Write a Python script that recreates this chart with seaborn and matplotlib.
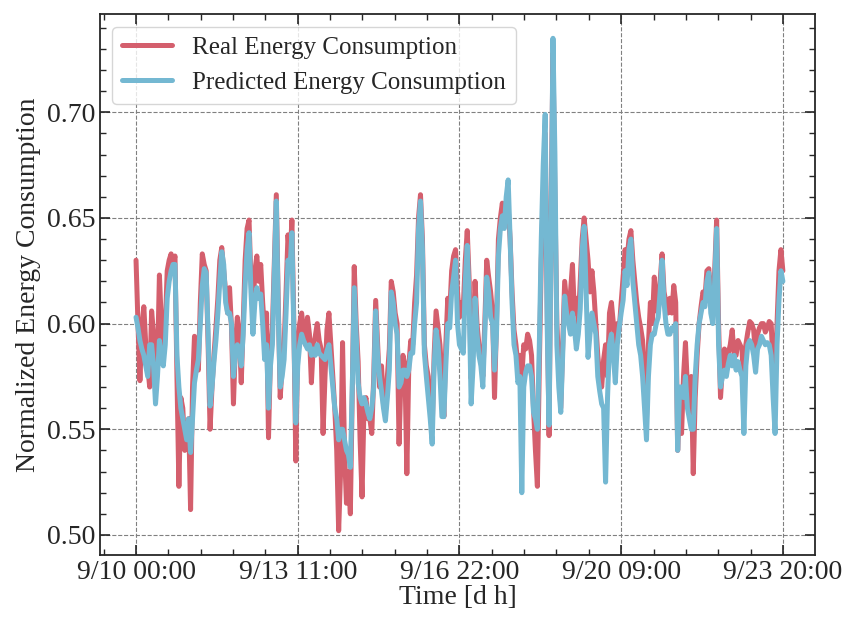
import numpy as np
import pandas as pd
import matplotlib
matplotlib.use("Agg")
import matplotlib.pyplot as plt
import seaborn as sns
from matplotlib.ticker import AutoMinorLocator, FixedLocator

# hourly values, hour 0 = 9/10 00:00, hour 332 = 9/23 20:00
real = [
    0.630, 0.600, 0.573, 0.598, 0.608, 0.590, 0.580, 0.570, 0.606, 0.595,
    0.572, 0.580, 0.623, 0.600, 0.585, 0.598, 0.625, 0.630, 0.633, 0.628,
    0.632, 0.575, 0.523, 0.565, 0.560, 0.540, 0.548, 0.555, 0.512, 0.570,
    0.594, 0.585, 0.578, 0.610, 0.633, 0.628, 0.625, 0.590, 0.550, 0.570,
    0.585, 0.598, 0.612, 0.630, 0.636, 0.625, 0.615, 0.605, 0.617, 0.598,
    0.562, 0.590, 0.603, 0.595, 0.572, 0.600, 0.630, 0.645, 0.649, 0.620,
    0.605, 0.625, 0.632, 0.620, 0.628, 0.610, 0.596, 0.605, 0.546, 0.585,
    0.598, 0.630, 0.661, 0.610, 0.565, 0.580, 0.590, 0.615, 0.642, 0.630,
    0.649, 0.600, 0.535, 0.590, 0.600, 0.605, 0.596, 0.590, 0.603, 0.595,
    0.572, 0.590, 0.594, 0.600, 0.592, 0.588, 0.548, 0.575, 0.597, 0.605,
    0.590, 0.575, 0.560, 0.540, 0.502, 0.530, 0.591, 0.540, 0.515, 0.530,
    0.510, 0.570, 0.627, 0.600, 0.582, 0.545, 0.518, 0.560, 0.565, 0.555,
    0.555, 0.548, 0.575, 0.611, 0.590, 0.570, 0.580, 0.562, 0.558, 0.575,
    0.588, 0.620, 0.615, 0.605, 0.600, 0.543, 0.575, 0.585, 0.580, 0.529,
    0.580, 0.592, 0.590, 0.610, 0.623, 0.650, 0.661, 0.640, 0.590, 0.580,
    0.575, 0.560, 0.550, 0.585, 0.606, 0.598, 0.590, 0.575, 0.556, 0.590,
    0.612, 0.605, 0.625, 0.632, 0.635, 0.615, 0.603, 0.610, 0.608, 0.630,
    0.644, 0.620, 0.574, 0.590, 0.620, 0.600, 0.590, 0.585, 0.575, 0.600,
    0.630, 0.622, 0.615, 0.605, 0.565, 0.600, 0.640, 0.650, 0.657, 0.650,
    0.648, 0.655, 0.640, 0.615, 0.597, 0.590, 0.580, 0.585, 0.575, 0.590,
    0.588, 0.595, 0.592, 0.585, 0.560, 0.540, 0.523, 0.580, 0.630, 0.660,
    0.690, 0.610, 0.547, 0.650, 0.728, 0.660, 0.600, 0.580, 0.560, 0.590,
    0.620, 0.610, 0.600, 0.615, 0.628, 0.605, 0.612, 0.600, 0.620, 0.640,
    0.650, 0.640, 0.630, 0.615, 0.625, 0.615, 0.600, 0.585, 0.575, 0.570,
    0.583, 0.590, 0.575, 0.605, 0.610, 0.600, 0.590, 0.600, 0.597, 0.610,
    0.622, 0.635, 0.630, 0.640, 0.644, 0.630, 0.620, 0.610, 0.603, 0.598,
    0.592, 0.575, 0.555, 0.590, 0.610, 0.600, 0.622, 0.610, 0.605, 0.620,
    0.633, 0.615, 0.610, 0.605, 0.612, 0.605, 0.618, 0.610, 0.540, 0.565,
    0.548, 0.575, 0.591, 0.570, 0.560, 0.575, 0.529, 0.565, 0.585, 0.600,
    0.608, 0.615, 0.612, 0.625, 0.626, 0.610, 0.612, 0.625, 0.649, 0.600,
    0.565, 0.580, 0.588, 0.580, 0.586, 0.590, 0.597, 0.585, 0.585, 0.592,
    0.590, 0.588, 0.570, 0.590, 0.596, 0.601, 0.600, 0.597, 0.585, 0.595,
    0.598, 0.600, 0.600, 0.596, 0.598, 0.601, 0.600, 0.580, 0.575, 0.600,
    0.625, 0.635, 0.625,
]

predicted = [
    0.603, 0.598, 0.592, 0.588, 0.585, 0.580, 0.575, 0.590, 0.590, 0.580,
    0.562, 0.575, 0.592, 0.585, 0.580, 0.590, 0.612, 0.620, 0.625, 0.628,
    0.628, 0.585, 0.570, 0.560, 0.555, 0.550, 0.545, 0.555, 0.539, 0.555,
    0.572, 0.578, 0.583, 0.600, 0.618, 0.626, 0.624, 0.595, 0.561, 0.570,
    0.582, 0.592, 0.605, 0.620, 0.634, 0.628, 0.610, 0.605, 0.605, 0.600,
    0.575, 0.585, 0.590, 0.588, 0.580, 0.595, 0.618, 0.635, 0.643, 0.615,
    0.595, 0.610, 0.617, 0.612, 0.614, 0.600, 0.583, 0.590, 0.560, 0.580,
    0.590, 0.625, 0.658, 0.605, 0.570, 0.575, 0.583, 0.605, 0.630, 0.625,
    0.643, 0.595, 0.553, 0.580, 0.590, 0.595, 0.592, 0.590, 0.588, 0.590,
    0.585, 0.588, 0.585, 0.590, 0.586, 0.585, 0.584, 0.583, 0.587, 0.590,
    0.580, 0.570, 0.560, 0.555, 0.545, 0.550, 0.550, 0.545, 0.540, 0.538,
    0.532, 0.570, 0.617, 0.595, 0.572, 0.565, 0.562, 0.565, 0.562, 0.558,
    0.555, 0.560, 0.570, 0.606, 0.585, 0.575, 0.568, 0.560, 0.554, 0.565,
    0.578, 0.615, 0.610, 0.600, 0.595, 0.570, 0.572, 0.578, 0.578, 0.575,
    0.578, 0.586, 0.586, 0.600, 0.610, 0.645, 0.658, 0.635, 0.586, 0.575,
    0.565, 0.555, 0.543, 0.580, 0.597, 0.590, 0.575, 0.556, 0.556, 0.580,
    0.600, 0.598, 0.615, 0.622, 0.630, 0.600, 0.590, 0.588, 0.586, 0.620,
    0.637, 0.610, 0.562, 0.580, 0.612, 0.595, 0.585, 0.580, 0.570, 0.595,
    0.622, 0.615, 0.603, 0.600, 0.578, 0.595, 0.632, 0.645, 0.651, 0.645,
    0.660, 0.668, 0.640, 0.610, 0.590, 0.585, 0.572, 0.575, 0.520, 0.570,
    0.577, 0.580, 0.580, 0.575, 0.558, 0.555, 0.550, 0.590, 0.640, 0.675,
    0.699, 0.600, 0.552, 0.640, 0.735, 0.680, 0.590, 0.570, 0.558, 0.585,
    0.613, 0.605, 0.600, 0.595, 0.605, 0.598, 0.588, 0.595, 0.607, 0.635,
    0.646, 0.615, 0.584, 0.595, 0.605, 0.600, 0.595, 0.575, 0.568, 0.562,
    0.560, 0.525, 0.565, 0.590, 0.595, 0.585, 0.572, 0.590, 0.598, 0.605,
    0.611, 0.625, 0.618, 0.635, 0.640, 0.620, 0.610, 0.600, 0.590, 0.585,
    0.575, 0.560, 0.545, 0.575, 0.590, 0.595, 0.595, 0.600, 0.603, 0.615,
    0.630, 0.610, 0.600, 0.595, 0.595, 0.598, 0.597, 0.600, 0.540, 0.570,
    0.570, 0.565, 0.575, 0.560, 0.555, 0.550, 0.550, 0.575, 0.590, 0.600,
    0.605, 0.610, 0.608, 0.620, 0.624, 0.605, 0.600, 0.620, 0.645, 0.590,
    0.570, 0.575, 0.578, 0.575, 0.581, 0.585, 0.580, 0.585, 0.578, 0.582,
    0.578, 0.575, 0.548, 0.580, 0.590, 0.592, 0.590, 0.585, 0.577, 0.588,
    0.590, 0.594, 0.592, 0.590, 0.591, 0.590, 0.585, 0.565, 0.548, 0.590,
    0.611, 0.625, 0.620,
]

hours = list(range(len(real)))

tick_hours = [0, 83, 166, 249, 332]
tick_labels = ["9/10 00:00", "9/13 11:00", "9/16 22:00", "9/20 09:00", "9/23 20:00"]

df = pd.DataFrame({
    "hour": hours + list(range(len(predicted))),
    "value": real + predicted,
    "series": ["Real Energy Consumption"] * len(real)
    + ["Predicted Energy Consumption"] * len(predicted),
})

sns.set_style("ticks")
plt.rcParams["font.family"] = ["Liberation Serif", "DejaVu Serif"]

fig = plt.figure(figsize=(8.59, 6.2), dpi=100)
ax = fig.add_axes([0.1164, 0.1048, 0.8324, 0.8726])

sns.lineplot(
    data=df,
    x="hour",
    y="value",
    hue="series",
    palette=["#d45f6d", "#74b8d2"],
    linewidth=3.6,
    ax=ax,
)

ax.set_xlim(-18.5, 348.5)
ax.set_ylim(0.4905, 0.7465)
ax.xaxis.set_major_locator(FixedLocator(tick_hours))
ax.set_xticklabels(tick_labels)
ax.set_yticks([0.50, 0.55, 0.60, 0.65, 0.70])
ax.xaxis.set_minor_locator(AutoMinorLocator(5))
ax.yaxis.set_minor_locator(AutoMinorLocator(5))
ax.tick_params(which="both", direction="in", top=True, right=True, labelsize=20)
ax.tick_params(which="major", length=7, width=1.2)
ax.tick_params(which="minor", length=4, width=1)
for s in ax.spines.values():
    s.set_linewidth(1.3)

ax.grid(True, which="major", linestyle="--", color="gray", linewidth=0.8)

ax.set_xlabel("Time [d h]", fontsize=20, labelpad=0)
ax.set_ylabel("Normalized Energy Consumption", fontsize=20)

leg = ax.legend(loc="upper left", fontsize=18, frameon=True, fancybox=True,
                edgecolor="#cccccc", framealpha=0.8)
for line in leg.get_lines():
    line.set_linewidth(3.6)

fig.savefig("out.png", dpi=100)
